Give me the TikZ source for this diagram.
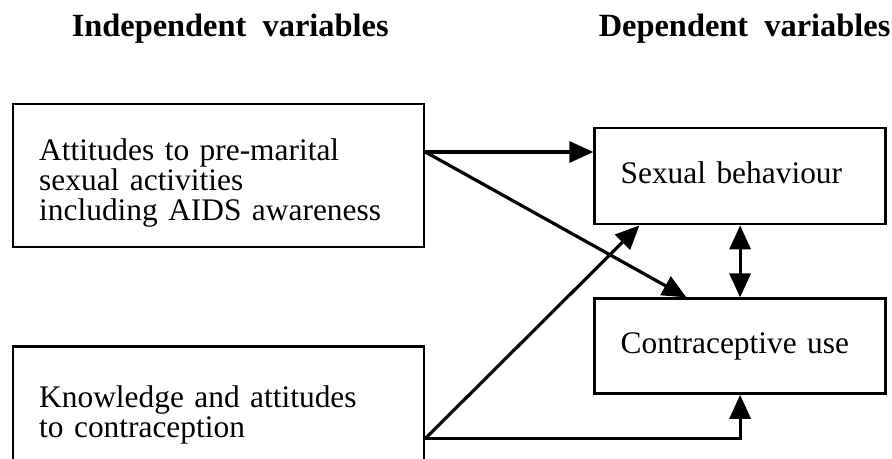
\documentclass[tikz,border=0pt]{standalone}
\usepackage{fontspec}
\setmainfont{Liberation Serif}
\usetikzlibrary{positioning,arrows.meta,calc}

\begin{document}
\begin{tikzpicture}[>={Triangle[length=12pt,width=10.5pt]},
box/.style={draw, line width=1.2pt, inner xsep=13pt, inner ysep=0pt, align=left, font=\fontsize{15.7}{15}\selectfont},
head/.style={font=\fontsize{16.2}{18}\selectfont\bfseries, anchor=base},
link/.style={->, line width=1.6pt}
]
\path[use as bounding box, clip] (0,0) rectangle (446pt,-229.5pt);

\node (att) [box, text width=179.5pt, text height=28pt, text depth=43.5pt, anchor=north west] at (6pt,-51.5pt) {Attitudes to pre-marital\\ sexual activities\\ including AIDS awareness};
\node (know) [box, font=\fontsize{15.7}{12.5}\selectfont, text width=179.5pt, text height=30.5pt, text depth=34.5pt, below=48.5pt of att.south west, anchor=north west] {Knowledge and attitudes\\ to contraception};
\node (sex) [box, text width=119.5pt, text height=27.5pt, text depth=20.5pt, right=84pt of att.north east, anchor=north west, yshift=-12pt] {Sexual behaviour};
\node (contra) [box, text width=119.5pt, text height=27.5pt, text depth=20pt, below=36pt of sex.south west, anchor=north west] {Contraceptive use};

\node (indep) [above=33pt of att.north, head, xshift=5.75pt] {Independent\enspace variables};
\node (dep) [above=45pt of sex.north, head, xshift=2.25pt] {Dependent\enspace variables};

\coordinate (attout) at ($(att.north east)+(0,-24.5pt)$);
\coordinate (knowout) at ($(know.north east)+(0,-46.5pt)$);

\draw[link] (attout) -- (attout -| sex.west);
\draw[link] (attout) -- ($(contra.north west)+(46.5pt,0)$);
\draw[link] (knowout) -- ($(sex.south west)+(23pt,0)$);
\draw[link] (knowout) -| (contra.south);
\draw[link,<->] (sex) -- (contra);

\end{tikzpicture}
\end{document}
